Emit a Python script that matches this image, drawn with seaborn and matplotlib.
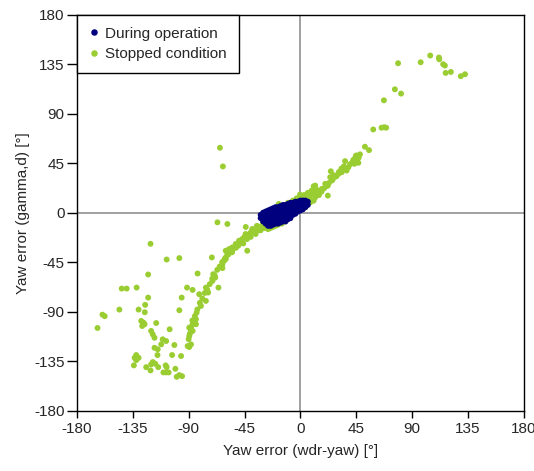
import matplotlib
matplotlib.use("Agg")
import matplotlib.pyplot as plt
import seaborn as sns
import pandas as pd

# ---- data ----
stopped_x = [
    78.7, 96.9, 104.6, 111.6, 111.8, 115.0, 116.4, 117.0, 121.2, 129.2, 132.6,
    76.1, 81.1, 67.3, 65.4, 67.5, 69.1, 58.7, 52.0, 55.3,
    44.5, 45.7, 43.5, 46.7, 36.0, 38.7, 37.3, 33.3, 30.7, 28.0, 24.5, 24.0, 25.3,
    20.0, 22.1, 22.1, 17.3, 14.7, 12.0, 10.7, 9.3, 7.4, 5.3, 8.0, 10.7, -0.3,
    -4.0, -1.4, 1.3, 4.0,
    2.0, 4.0, 6.0, 8.0, 12.0, 13.0, 15.0, 17.0, 19.0, 21.0, 23.0, 26.0, 27.0,
    29.0, 31.0, 33.0, 35.0, 40.0, 42.0, 47.0, 48.0, 45.0, 10.7, 42.7,
    -17.4, -17.4, -28.0, -25.4, -10.0, -6.0, -3.0, 0.5, 3.0, 6.0, 9.0, 12.0,
    -64.8, -62.4,
    -71.3, -66.8, -58.8, -42.8, -60.1, -61.4, -62.8, -57.4, -52.1, -46.8, -44.1,
    -38.8, -33.4, -28.0, -36.0, -41.4, -49.4, -54.8, -58.8, -60.1,
    -55.0, -52.0, -50.0, -48.0, -46.0, -45.0, -43.0, -40.0, -40.0, -38.0, -36.0,
    -35.0, -33.0, -31.0, -30.0, -29.0, -27.0, -26.0, -24.0, -22.0, -20.0, -18.0,
    -15.0, -12.0, -44.0, -38.0, -32.0,
    -120.7, -107.7, -97.5, -122.6, -82.8, -143.9, -139.9, -131.9, -91.3, -86.8,
    -122.6, -95.6, -125.0, -159.4, -157.6, -145.8, -130.3, -125.3, -97.5, -83.6,
    -163.4, -128.2, -126.3, -127.4, -125.5, -116.1, -120.2, -118.9, -117.5,
    -105.3, -89.5, -86.8, -84.1, -110.9, -112.1, -108.1, -117.5, -114.9, -101.5,
    -89.5, -88.1, -132.2, -133.5, -130.3, -132.2, -115.1, -103.3, -96.1, -134.1,
    -118.9, -120.2, -116.9, -124.2, -120.7, -114.5, -108.5, -107.7, -110.3,
    -108.1, -106.1, -100.7, -97.5, -99.6, -95.3,
    -81.5, -76.1, -74.3, -70.2, -68.6, -70.8, -66.0, -76.1, -80.1, -84.1, -86.8,
    -88.1, -89.5, -90.8, -62.8, -60.1, -57.4, -54.8,
    -90.0, -89.0, -88.0, -87.0, -85.0, -83.0, -81.0, -79.0, -77.0, -75.0, -73.0,
    -71.0, -69.0, -67.0, -65.0, -63.0, -61.0, -58.0, -56.0,
]
stopped_y = [
    135.8, 136.7, 142.8, 141.0, 139.4, 134.9, 133.7, 127.0, 127.9, 124.0, 125.8,
    112.1, 108.2, 102.1, 77.2, 77.7, 77.2, 75.6, 59.9, 56.8,
    51.0, 47.4, 44.4, 45.3, 46.8, 41.3, 38.3, 36.7, 35.3, 32.8, 37.6, 32.2, 29.2,
    26.2, 24.6, 15.5, 21.6, 20.1, 24.6, 18.5, 17.0, 13.9, 12.5, 9.4, 10.9, 16.4,
    9.4, 7.9, 6.4, 4.8,
    12.0, 10.0, 14.0, 16.0, 14.0, 17.0, 16.0, 19.0, 22.0, 24.0, 27.0, 30.0, 34.0,
    33.0, 37.0, 40.0, 42.0, 44.0, 46.0, 50.0, 53.0, 52.0, 24.0, 48.0,
    6.4, 7.9, -4.3, -1.2, 9.0, 11.0, 13.0, 14.0, 16.0, 18.0, 20.0, 22.0,
    59.0, 42.0,
    -40.7, -8.8, -10.3, -34.6, -34.6, -43.7, -50.4, -33.1, -28.5, -24.0, -19.4,
    -14.9, -13.4, -10.3, -19.4, -21.0, -25.5, -31.6, -37.6, -42.2,
    -36.0, -32.0, -30.0, -27.0, -28.0, -22.0, -24.0, -18.0, -22.0, -17.0, -15.0,
    -12.0, -16.0, -12.0, -9.0, -14.0, -13.0, -15.0, -14.0, -13.0, -12.0, -11.0,
    -10.0, -8.0, -13.0, -15.0, -16.0,
    -28.3, -42.6, -41.3, -56.2, -55.3, -69.0, -69.0, -68.1, -68.1, -70.2,
    -77.2, -77.2, -83.8, -92.7, -94.1, -88.1, -88.1, -90.5, -88.7, -90.9,
    -104.8, -98.4, -100.0, -103.0, -101.4, -100.3, -107.5, -110.6, -113.7,
    -106.0, -104.5, -107.5, -101.4, -115.1, -119.7, -116.7, -122.8, -124.2, -120.3,
    -122.1, -119.7, -129.4, -131.9, -131.9, -134.0, -129.4, -129.4, -130.3, -138.8,
    -135.8, -137.9, -137.3, -140.4, -143.4, -140.4, -138.8, -140.4, -145.2,
    -145.2, -145.2, -141.9, -147.6, -149.2, -148.6,
    -74.1, -68.1, -72.6, -55.9, -59.0, -62.0, -68.1, -80.2, -84.8, -96.9, -101.4,
    -107.5, -112.1, -121.2, -46.8, -40.7, -34.6, -33.1,
    -115.0, -110.0, -104.0, -98.0, -94.0, -88.0, -82.0, -78.0, -73.0, -70.0, -65.0,
    -60.0, -57.0, -52.0, -49.0, -45.0, -42.0, -38.0, -35.0,
]

operation_x = [
    -32, -32,
    -30, -30, -30, -30,
    -28, -28, -28, -28, -28,
    -26, -26, -26, -26, -26, -26,
    -24, -24, -24, -24, -24, -24,
    -22, -22, -22, -22, -22, -22,
    -20, -20, -20, -20, -20, -20,
    -18, -18, -18, -18, -18, -18,
    -16, -16, -16, -16, -16, -16,
    -14, -14, -14, -14, -14, -14,
    -12, -12, -12, -12, -12, -12,
    -10, -10, -10, -10, -10, -10,
    -8, -8, -8, -8, -8, -8,
    -6, -6, -6, -6, -6,
    -4, -4, -4, -4, -4,
    -2, -2, -2, -2,
    0, 0, 0, 0,
    2, 2, 2, 2,
    4, 4, 4,
    6, 6,
]
operation_y = [
    -2, -5,
    0, -3, -6, -8,
    1, -2, -5, -8, -10,
    2, -1, -4, -7, -10, -12,
    3, 0, -3, -6, -9, -12,
    4, 1, -2, -5, -8, -11,
    5, 2, -1, -4, -7, -10,
    5, 2, -1, -4, -7, -10,
    6, 3, 0, -3, -6, -9,
    7, 4, 1, -2, -5, -8,
    7, 4, 1, -2, -5, -8,
    8, 5, 2, -1, -4, -6,
    9, 6, 3, 0, -3, -5,
    9, 6, 3, 0, -2,
    10, 7, 4, 1, -1,
    10, 7, 4, 1,
    11, 8, 5, 2,
    11, 8, 5, 3,
    11, 8, 5,
    10, 7,
]

series_names = ["During operation", "Stopped condition"]
series_colors = ["#00007F", "#9ACD32"]
ticks = [-180, -135, -90, -45, 0, 45, 90, 135, 180]

df = pd.concat([
    pd.DataFrame({"x": stopped_x, "y": stopped_y, "state": series_names[1]}),
    pd.DataFrame({"x": operation_x, "y": operation_y, "state": series_names[0]}),
], ignore_index=True)

sns.set_style("white")
plt.rcParams["font.family"] = ["Liberation Sans", "DejaVu Sans"]
plt.rcParams["axes.unicode_minus"] = False

fig = plt.figure(figsize=(5.34, 4.71), dpi=100)
ax = fig.add_axes([0.144, 0.128, 0.837, 0.841])

ax.axhline(0, color="#999999", lw=1.3, zorder=1)
ax.axvline(0, color="#999999", lw=1.3, zorder=1)

sns.scatterplot(data=df, x="x", y="y", hue="state", hue_order=series_names,
                palette=series_colors, marker="o", s=18, linewidth=0,
                ax=ax, zorder=3)

ax.set_xlim(-180, 180)
ax.set_ylim(-180, 180)
ax.set_xticks(ticks)
ax.set_yticks(ticks)
ax.set_xticklabels([str(t) for t in ticks])
ax.set_yticklabels([str(t) for t in ticks])
ax.tick_params(axis="x", direction="out", length=5, width=1, color="black",
               labelsize=11, pad=3, bottom=True)
ax.tick_params(axis="y", direction="out", length=7, width=1, color="black",
               labelsize=11, pad=2, left=True)
for sp in ax.spines.values():
    sp.set_color("black")
    sp.set_linewidth(1)

ax.set_xlabel("Yaw error (wdr-yaw) [°]", fontsize=11, labelpad=6)
ax.set_ylabel("Yaw error (gamma,d) [°]", fontsize=11, labelpad=3)

leg = ax.legend(loc="upper left", borderaxespad=0, fontsize=11,
                frameon=True, fancybox=False, edgecolor="black", framealpha=1,
                handlelength=0.6, handletextpad=0.45, borderpad=0.8,
                labelspacing=0.4, markerscale=1.1)
leg.get_frame().set_linewidth(1)
leg.set_title(None)

fig.savefig("out.png", dpi=100)
